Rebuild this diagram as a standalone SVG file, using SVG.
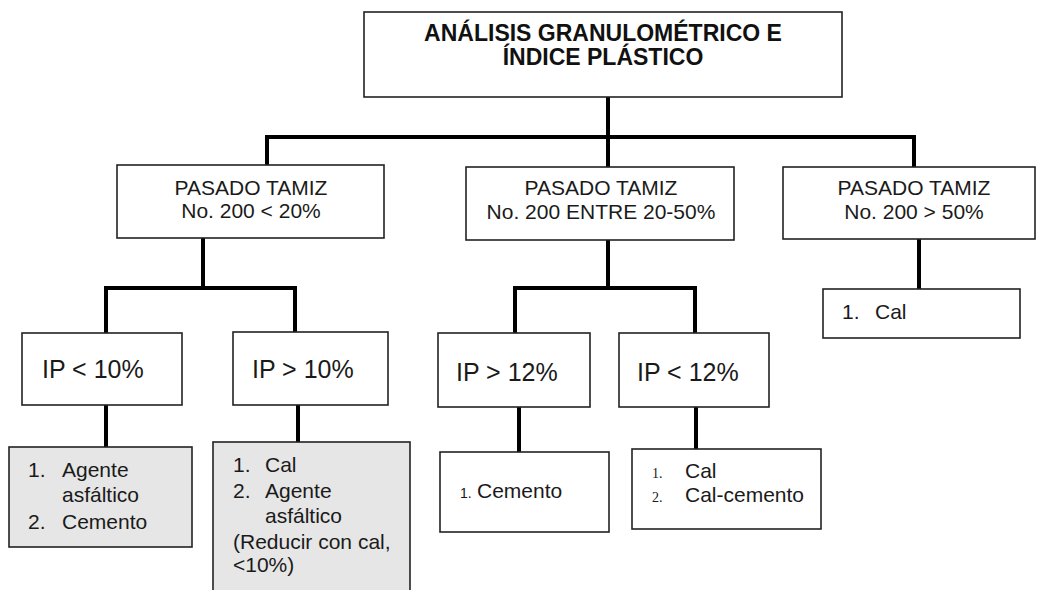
<svg xmlns="http://www.w3.org/2000/svg" width="1037" height="590" viewBox="0 0 1037 590">
<style>
.box{fill:#fff;stroke:#222;stroke-width:1.6}
.grey{fill:#e6e6e6;stroke:#222;stroke-width:1.6}
.t{font-family:"Liberation Sans",Arial,sans-serif;font-size:21px;fill:#1a1a1a}
.title{font-family:"Liberation Sans",Arial,sans-serif;font-size:23px;font-weight:bold;fill:#111}
.ip{font-family:"Liberation Sans",Arial,sans-serif;font-size:25px;fill:#1a1a1a}
.num{font-family:"Liberation Serif","Times New Roman",serif;font-size:14px;fill:#1a1a1a}
.sn{font-family:"Liberation Sans",Arial,sans-serif;font-size:14px;fill:#1a1a1a}
.c{text-anchor:middle}
#connectors path{fill:none;stroke:#000;stroke-width:4;stroke-linejoin:miter;stroke-linecap:square}
</style>
<rect width="1037" height="590" fill="#fff"/>
<g id="connectors">
<path d="M608 97V137"/>
<path d="M267 165V137H914V167"/>
<path d="M608 137V167"/>
<path d="M203 238V288"/>
<path d="M106 333V288H295V332"/>
<path d="M608 240V288"/>
<path d="M515 333V288H695V333"/>
<path d="M919 239V289"/>
<path d="M106 405V447"/>
<path d="M298 405V442"/>
<path d="M519 407V452"/>
<path d="M696 407V449"/>
</g>
<g id="root">
<rect class="box" x="364" y="12" width="478" height="85"/>
<text class="title c" x="603" y="41">ANÁLISIS GRANULOMÉTRICO E</text>
<text class="title c" x="603" y="65">ÍNDICE PLÁSTICO</text>
</g>
<g id="p1">
<rect class="box" x="117" y="165" width="267" height="73"/>
<text class="t c" x="251" y="195">PASADO TAMIZ</text>
<text class="t c" x="251" y="218">No. 200 &lt; 20%</text>
</g>
<g id="p2">
<rect class="box" x="466" y="167" width="268" height="73"/>
<text class="t c" x="601" y="195">PASADO TAMIZ</text>
<text class="t c" x="601" y="219">No. 200 ENTRE 20-50%</text>
</g>
<g id="p3">
<rect class="box" x="783" y="167" width="252" height="72"/>
<text class="t c" x="914" y="195">PASADO TAMIZ</text>
<text class="t c" x="914" y="219">No. 200 &gt; 50%</text>
</g>
<g id="cal">
<rect class="box" x="823" y="289" width="197" height="49"/>
<text class="t" x="842" y="319">1.</text>
<text class="t" x="875" y="319">Cal</text>
</g>
<g id="ip1">
<rect class="box" x="22" y="333" width="160" height="72"/>
<text class="ip" x="42" y="378">IP &lt; 10%</text>
</g>
<g id="ip2">
<rect class="box" x="233" y="332" width="155" height="73"/>
<text class="ip" x="252" y="378">IP &gt; 10%</text>
</g>
<g id="ip3">
<rect class="box" x="438" y="333" width="152" height="74"/>
<text class="ip" x="456" y="381">IP &gt; 12%</text>
</g>
<g id="ip4">
<rect class="box" x="619" y="333" width="150" height="74"/>
<text class="ip" x="637" y="381">IP &lt; 12%</text>
</g>
<g id="r1">
<rect class="grey" x="9" y="447" width="183" height="100"/>
<text class="t" x="28" y="477">1.</text>
<text class="t" x="62" y="477">Agente</text>
<text class="t" x="62" y="502">asfáltico</text>
<text class="t" x="28" y="529">2.</text>
<text class="t" x="62" y="529">Cemento</text>
</g>
<g id="r2">
<rect class="grey" x="213" y="442" width="197" height="160"/>
<text class="t" x="233" y="472">1.</text>
<text class="t" x="265" y="472">Cal</text>
<text class="t" x="233" y="498">2.</text>
<text class="t" x="265" y="498">Agente</text>
<text class="t" x="265" y="523">asfáltico</text>
<text class="t" x="233" y="549">(Reducir con cal,</text>
<text class="t" x="233" y="572">&lt;10%)</text>
</g>
<g id="r3">
<rect class="box" x="440" y="452" width="169" height="80"/>
<text class="sn" x="460" y="498">1.</text>
<text class="t" x="477" y="498">Cemento</text>
</g>
<g id="r4">
<rect class="box" x="632" y="449" width="189" height="80"/>
<text class="num" x="652" y="478">1.</text>
<text class="t" x="685" y="478">Cal</text>
<text class="num" x="652" y="502">2.</text>
<text class="t" x="685" y="502">Cal-cemento</text>
</g>
</svg>
